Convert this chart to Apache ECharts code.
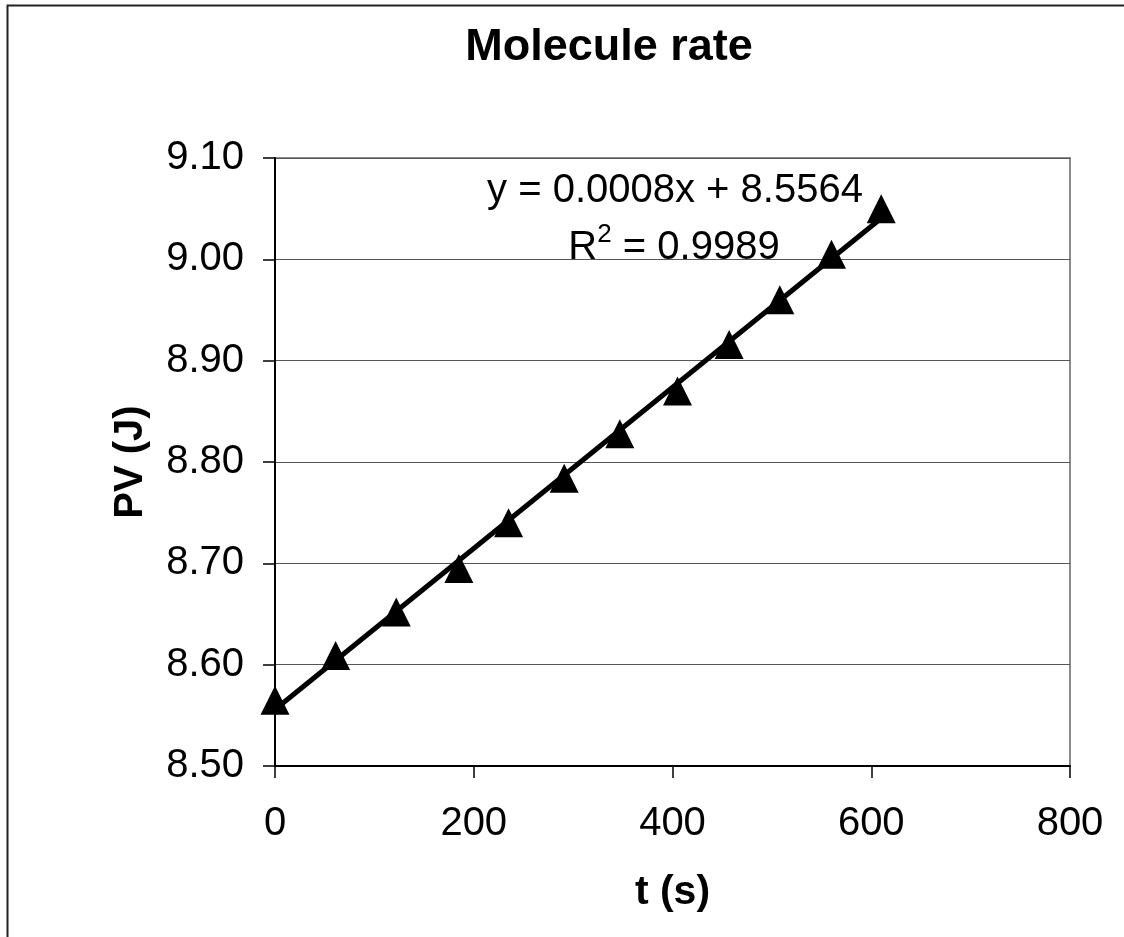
<!DOCTYPE html>
<html>
<head>
<meta charset="utf-8">
<script src="https://cdn.jsdelivr.net/npm/echarts@6/dist/echarts.min.js"></script>
<style>
html,body{margin:0;padding:0;background:#fff;}
#chart{width:1124px;height:937px;}
</style>
</head>
<body>
<div id="chart"></div>
<script>
// ---- data ----
var chartTitle = 'Molecule rate';
var xName = 't (s)';
var yName = 'PV (J)';
var timeSeconds = [0, 61, 122, 185, 235, 291, 347, 405, 457, 508, 560, 610];
var pvValues = [8.565, 8.609, 8.652, 8.695, 8.740, 8.784, 8.828, 8.870, 8.916, 8.960, 9.005, 9.050];
var xTicks = [0, 200, 400, 600, 800];
var yTicks = [8.50, 8.60, 8.70, 8.80, 8.90, 9.00, 9.10];
var equationText = 'y = 0.0008x + 8.5564';
var r2Text = '0.9989';

// least-squares trendline from the data
function fitLine(xs, ys) {
  var n = xs.length, sx = 0, sy = 0, sxx = 0, sxy = 0;
  for (var i = 0; i < n; i++) { sx += xs[i]; sy += ys[i]; sxx += xs[i]*xs[i]; sxy += xs[i]*ys[i]; }
  var m = (n*sxy - sx*sy) / (n*sxx - sx*sx);
  var b = (sy - m*sx) / n;
  return {m: m, b: b};
}
var fit = fitLine(timeSeconds, pvValues);
var xFirst = timeSeconds[0], xLast = timeSeconds[timeSeconds.length-1];
var trendData = [[xFirst, fit.m*xFirst + fit.b], [xLast, fit.m*xLast + fit.b]];
var scatterData = timeSeconds.map(function (t, i) { return [t, pvValues[i]]; });

var FONT = '"Liberation Sans", Arial, Helvetica, sans-serif';
var chart = echarts.init(document.getElementById('chart'), null, {renderer: 'canvas'});
chart.setOption({
  animation: false,
  backgroundColor: '#ffffff',
  title: {
    text: chartTitle,
    left: 604, top: 20, textAlign: 'center',
    textStyle: {fontFamily: FONT, fontSize: 45, fontWeight: 'bold', color: '#000'}
  },
  grid: {
    left: 275, right: 54, top: 158, bottom: 171,
    show: true, borderColor: '#8c8c8c', borderWidth: 2, backgroundColor: '#ffffff'
  },
  xAxis: {
    type: 'value', min: xTicks[0], max: xTicks[xTicks.length-1], interval: 200,
    name: xName, nameLocation: 'middle', nameGap: 106,
    nameTextStyle: {fontFamily: FONT, fontSize: 41, fontWeight: 'bold', color: '#000'},
    axisLine: {show: true, onZero: false, lineStyle: {color: '#000', width: 2}},
    axisTick: {show: true, inside: false, length: 12, lineStyle: {color: '#000', width: 1.5}},
    axisLabel: {margin: 38, fontFamily: FONT, fontSize: 40, color: '#000'},
    splitLine: {show: false}
  },
  yAxis: {
    type: 'value', min: yTicks[0], max: yTicks[yTicks.length-1], interval: 0.1,
    name: yName, nameLocation: 'middle', nameGap: 124,
    nameTextStyle: {fontFamily: FONT, fontSize: 40, fontWeight: 'bold', color: '#000'},
    axisLine: {show: true, onZero: false, lineStyle: {color: '#000', width: 2}},
    axisTick: {show: true, inside: false, length: 12, lineStyle: {color: '#000', width: 1.5}},
    axisLabel: {margin: 31, fontFamily: FONT, fontSize: 40, color: '#000',
      formatter: function (v) { return v.toFixed(2); }},
    splitLine: {show: true, lineStyle: {color: '#555', width: 1.2}}
  },
  series: [
    {
      type: 'line', data: trendData, showSymbol: false, symbol: 'none',
      lineStyle: {color: '#000', width: 5}, z: 2, silent: true
    },
    {
      type: 'scatter', data: scatterData, symbol: 'triangle', symbolSize: [29, 29],
      itemStyle: {color: '#000', opacity: 1}, z: 3
    }
  ],
  graphic: [
    {
      type: 'rect', shape: {x: 7.5, y: 5.5, width: 1400, height: 1200},
      style: {fill: 'none', stroke: '#222', lineWidth: 2}, silent: true, z: 100
    },
    {
      type: 'text', x: 675, y: 191, z: 100,
      style: {text: equationText, fontFamily: FONT, fontSize: 40, fill: '#000',
        align: 'center', verticalAlign: 'middle'}
    },
    {
      type: 'text', x: 674, y: 245, z: 100,
      style: {
        text: '{a|R}{s|2}{a| = ' + r2Text + '}',
        align: 'center', verticalAlign: 'middle',
        rich: {
          a: {fontFamily: FONT, fontSize: 40, fill: '#000', color: '#000', lineHeight: 46, verticalAlign: 'bottom'},
          s: {fontFamily: FONT, fontSize: 26, fill: '#000', color: '#000', lineHeight: 46, verticalAlign: 'top'}
        }
      }
    }
  ]
});
</script>
</body>
</html>
